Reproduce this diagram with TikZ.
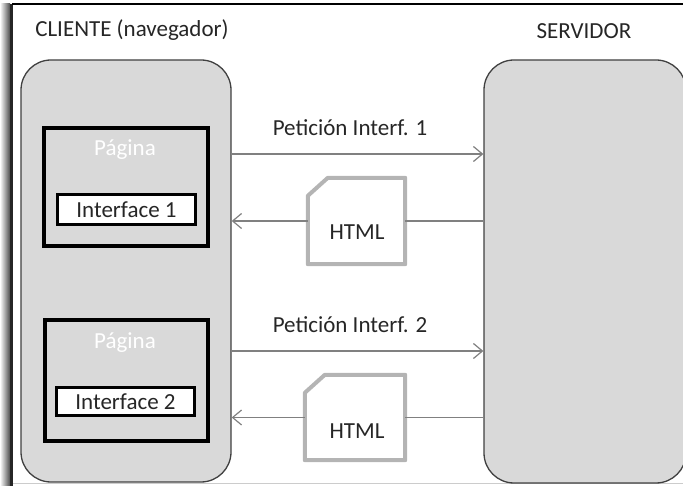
\documentclass[tikz,border=0pt]{standalone}
\usepackage{fontspec}
\setmainfont{Carlito}
\usetikzlibrary{arrows.meta,calc}
\definecolor{boxgray}{HTML}{D9D9D9}
\definecolor{edgegray}{HTML}{404040}
\definecolor{linegray}{HTML}{808080}
\definecolor{docgray}{HTML}{B4B4B4}
\tikzset{
  txt/.style={font=\fontsize{23}{26}\selectfont},
  side/.style={draw=edgegray, line width=1.3pt, fill=boxgray, rounded corners=30pt,
    inner sep=0pt, minimum width=#1},
  pagebox/.style={draw=black, line width=3.5pt, fill=boxgray, inner sep=0pt},
  ifacebox/.style={draw=black, line width=3pt, fill=white, inner sep=0pt,
    minimum width=138pt, txt, text=black!85},
  pagelabel/.style={text=white, txt},
  caption/.style={txt, text=black!85},
  docanchor/.style={inner sep=0pt},
  doctext/.style={txt, text=black!85},
  docline/.style={draw=docgray, line width=4pt, fill=white, line join=round},
  conn/.style={draw=linegray, line width=1.2pt},
  tip/.style={-{Straight Barb[length=9pt,width=15pt,line width=1.2pt]}},
}
\begin{document}
\begin{tikzpicture}[x=1pt,y=-1pt]
\useasboundingbox (0,0) rectangle (683,486);
\begin{scope}
\clip (0,0) rectangle (683,486);
% window frame: shadow on the left, thin rules top and bottom
\shade[left color=white, right color=black!70] (0,4) rectangle (10,486);
\fill[black!85] (10,4) rectangle (12.5,486);
\draw[black, line width=1.2pt] (12,4) -- (683,4);
\draw[black!20, line width=1pt] (13,483.5) -- (683,483.5);

% headings
\node[caption] (tcli) at (132,30) {CLIENTE (navegador)};
\node[caption] (tsrv) at (584,31) {SERVIDOR};

% client and server columns
\node[side=210pt, minimum height=422pt] (client) at (126,271) {};
\node[side=202pt, minimum height=423pt] (server) at (585,271.5) {};

% first page
\node[pagebox, minimum width=164pt, minimum height=118pt] (page1) at (126,187) {};
\node[pagelabel] (plab1) at (125,150) {Página};
\node[ifacebox, minimum height=30pt] (iface1) at (126.5,209.5) {Interface 1};

% second page
\node[pagebox, minimum width=163pt, minimum height=121pt] (page2) at (126.5,380.5) {};
\node[pagelabel] (plab2) at (125,343) {Página};
\node[ifacebox, minimum height=28pt] (iface2) at (125.5,401.5) {Interface 2};

% returned documents
\node[docanchor, minimum width=97pt, minimum height=86pt] (doc1) at (356.5,221) {};
\node[docanchor, minimum width=100pt, minimum height=85pt] (doc2) at (355,417.5) {};
\foreach \d in {doc1,doc2}{
  \path[docline] ($(\d.north west)+(0,18)$) -- ($(\d.north west)+(20,0)$)
    -- (\d.north east) -- (\d.south east) -- (\d.south west) -- cycle;
}
\node[doctext] (html1) at (357,232) {HTML};
\node[doctext] (html2) at (357,431) {HTML};

% requests
\draw[conn,tip] (client.east |- {(0,154)}) -- (server.west |- {(0,154)});
\node[caption] (req1) at (350,128) {Petición Interf. 1};
\draw[conn,tip] (client.east |- {(0,351)}) -- (server.west |- {(0,351)});
\node[caption] (req2) at (350,325) {Petición Interf. 2};

% responses
\draw[conn] (server.west |- doc1.east) -- (doc1.east);
\draw[conn,tip] (doc1.west) -- (client.east |- doc1.west);
\draw[conn] (server.west |- doc2.east) -- (doc2.east);
\draw[conn,tip] (doc2.west) -- (client.east |- doc2.west);
\end{scope}
\end{tikzpicture}
\end{document}
